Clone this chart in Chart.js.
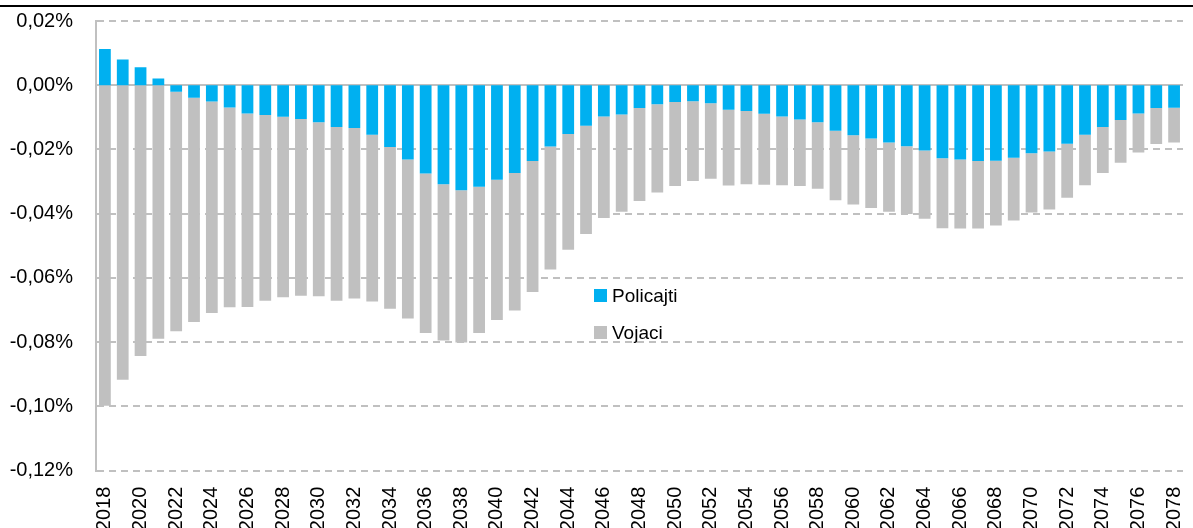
<!DOCTYPE html>
<html>
<head>
<meta charset="utf-8">
<script src="https://cdn.jsdelivr.net/npm/chart.js@4/dist/chart.umd.min.js"></script>
<style>
  html, body { margin:0; padding:0; background:#fff; overflow:hidden; }
  #wrap { position:absolute; left:0; top:0; width:1193px; height:545px; }
  #topline { position:absolute; left:0; top:5px; width:1193px; height:2px; background:#000; }
  #legend { position:absolute; left:594px; top:277px; font-family:'Liberation Sans',Arial,sans-serif; font-size:19px; color:#000; }
  .lg-row { height:37px; display:flex; align-items:center; }
  .lg-box { width:13px; height:13px; margin-right:5px; }
</style>
</head>
<body>
<div id="topline"></div>
<div id="wrap"><canvas id="c" width="1193" height="545"></canvas></div>
<div id="legend"></div>
<script>
var YEARS = ['2018','2019','2020','2021','2022','2023','2024','2025','2026','2027',
  '2028','2029','2030','2031','2032','2033','2034','2035','2036','2037',
  '2038','2039','2040','2041','2042','2043','2044','2045','2046','2047',
  '2048','2049','2050','2051','2052','2053','2054','2055','2056','2057',
  '2058','2059','2060','2061','2062','2063','2064','2065','2066','2067',
  '2068','2069','2070','2071','2072','2073','2074','2075','2076','2077','2078'];

// % of GDP
var POLICAJTI = [0.0113,0.0080,0.0056,0.0021,-0.0020,-0.0039,-0.0051,-0.0069,-0.0088,-0.0093,
  -0.0098,-0.0105,-0.0115,-0.0130,-0.0133,-0.0154,-0.0192,-0.0231,-0.0275,-0.0308,
  -0.0327,-0.0316,-0.0294,-0.0273,-0.0236,-0.0191,-0.0152,-0.0126,-0.0097,-0.0091,
  -0.0071,-0.0059,-0.0052,-0.0050,-0.0056,-0.0076,-0.0080,-0.0089,-0.0097,-0.0107,
  -0.0115,-0.0142,-0.0156,-0.0166,-0.0178,-0.0190,-0.0203,-0.0227,-0.0231,-0.0236,
  -0.0235,-0.0226,-0.0212,-0.0206,-0.0182,-0.0154,-0.0130,-0.0108,-0.0088,-0.0071,-0.0070];

var VOJACI = [-0.0998,-0.0917,-0.0843,-0.0789,-0.0746,-0.0698,-0.0658,-0.0622,-0.0602,-0.0578,
  -0.0562,-0.0550,-0.0542,-0.0541,-0.0531,-0.0519,-0.0504,-0.0495,-0.0496,-0.0487,
  -0.0474,-0.0455,-0.0437,-0.0428,-0.0408,-0.0383,-0.0360,-0.0337,-0.0316,-0.0303,
  -0.0289,-0.0275,-0.0262,-0.0248,-0.0235,-0.0236,-0.0228,-0.0221,-0.0214,-0.0207,
  -0.0207,-0.0216,-0.0215,-0.0216,-0.0216,-0.0211,-0.0213,-0.0218,-0.0215,-0.0210,
  -0.0202,-0.0195,-0.0184,-0.0181,-0.0168,-0.0157,-0.0143,-0.0133,-0.0121,-0.0112,-0.0108];

var SERIES = [
  {label:'Policajti', data:POLICAJTI, color:'#00B0F0'},
  {label:'Vojaci', data:VOJACI, color:'#C0C0C0'}
];

var Y_MIN = -0.12, Y_MAX = 0.02, Y_STEP = 0.02;
var FONT = "'Liberation Sans',Arial,sans-serif";

/* legend */
document.getElementById('legend').innerHTML = SERIES.map(function(s) {
  return '<div class="lg-row"><div class="lg-box" style="background:' + s.color + '"></div>' + s.label + '</div>';
}).join('');

new Chart(document.getElementById('c'), {
  type:'bar',
  data:{
    labels: YEARS,
    datasets: SERIES.map(function(s) {
      return {label:s.label, data:s.data, backgroundColor:s.color, borderWidth:0,
        barPercentage:0.66, categoryPercentage:1};
    })
  },
  options:{
    responsive:false, animation:false,
    layout:{padding:{top:21, left:0, right:10, bottom:0}},
    plugins:{legend:{display:false}, tooltip:{enabled:false}},
    scales:{
      x:{
        stacked:true,
        grid:{display:false, drawTicks:false},
        border:{display:false},
        ticks:{
          autoSkip:false, maxRotation:90, minRotation:90, padding:16,
          color:'#000', font:{family:FONT, size:20},
          callback:function(v, i) { return i % 2 === 0 ? YEARS[i] : ''; }
        },
        afterFit:function(s) { s.height = 545 - 470.7; s.paddingLeft = 0; s.paddingRight = 0; }
      },
      y:{
        stacked:true, min:Y_MIN, max:Y_MAX,
        grid:{color:'#C0C0C0', lineWidth:2, drawTicks:false},
        border:{display:true, color:'#C0C0C0', width:2,
          dash:function(ctx) { return (ctx.tick && Math.abs(ctx.tick.value) < 1e-9) ? [] : [7,5]; }},
        ticks:{
          stepSize:Y_STEP, padding:23, color:'#000', font:{family:FONT, size:20},
          callback:function(v) {
            if (Math.abs(v) < 1e-9) v = 0;
            return v.toFixed(2).replace('.', ',') + '%';
          }
        },
        afterFit:function(s) { s.width = 96; s.paddingTop = 0; s.paddingBottom = 0; }
      }
    }
  }
});
</script>
</body>
</html>
